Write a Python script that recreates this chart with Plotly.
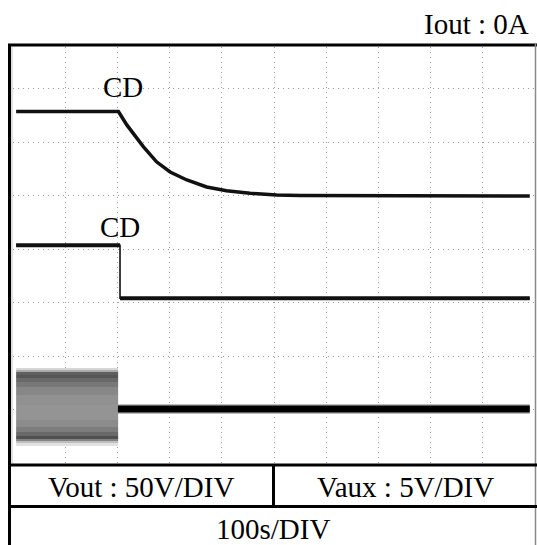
import plotly.graph_objects as go

# ---- data (divisions) ----
vout_t = [0.06, 2.02, 2.18, 2.30, 2.50, 2.75, 3.01, 3.33, 3.71, 4.09, 4.54, 5.05, 5.50, 9.90]
vout_v = [6.57, 6.57, 6.32, 6.16, 5.91, 5.63, 5.44, 5.29, 5.16, 5.09, 5.04, 5.01, 5.00, 4.99]

vaux_t = [0.06, 2.05, 2.05, 9.90]
vaux_v = [4.07, 4.07, 3.08, 3.08]

ch3_band_t = [0.06, 2.01]
ch3_band_edges = [0.318, 0.374, 0.411, 0.449, 0.505, 0.579, 0.673, 0.804, 1.084,
                  1.271, 1.421, 1.514, 1.589, 1.645, 1.701, 1.738, 1.776]
ch3_band_gray = [225, 190, 130, 80, 105, 125, 140, 148, 145, 135, 120, 105, 85, 95, 170, 215]
ch3_t = [2.01, 9.90]
ch3_v = [1.01, 1.01]

labels_cd = ["CD", "CD"]
title_right = "Iout : 0A"
cell_vout = "Vout : 50V/DIV"
cell_vaux = "Vaux : 5V/DIV"
cell_time = "100s/DIV"

# ---- geometry helpers (pixel -> paper) ----
W, H = 537, 545
L, R, T, B = 13, 535, 47, 463


def px(x):
    return (x - L) / (R - L)


def py(y):
    return (B - y) / (B - T)


fig = go.Figure()

# gray band (ch3 before CD)
fig.add_trace(go.Heatmap(
    x=ch3_band_t, y=ch3_band_edges, z=[[g] for g in ch3_band_gray],
    colorscale=[[0, "#000000"], [1, "#ffffff"]], zmin=0, zmax=255,
    showscale=False, hoverinfo="skip"))

# ch3 line
fig.add_trace(go.Scatter(x=ch3_t, y=ch3_v, mode="lines",
                         line=dict(color="#bdbdbd", width=10), hoverinfo="skip"))
fig.add_trace(go.Scatter(x=ch3_t, y=ch3_v, mode="lines",
                         line=dict(color="#000000", width=7), hoverinfo="skip"))

# Vaux: thin full trace + thick horizontal segments
fig.add_trace(go.Scatter(x=vaux_t, y=vaux_v, mode="lines",
                         line=dict(color="#000000", width=1.5), hoverinfo="skip"))
hx, hy = [], []
for i in range(len(vaux_t) - 1):
    if vaux_v[i] == vaux_v[i + 1]:
        hx += [vaux_t[i], vaux_t[i + 1], None]
        hy += [vaux_v[i], vaux_v[i + 1], None]
fig.add_trace(go.Scatter(x=hx, y=hy, mode="lines",
                         line=dict(color="#111111", width=4), hoverinfo="skip"))

# Vout
fig.add_trace(go.Scatter(x=vout_t, y=vout_v, mode="lines",
                         line=dict(color="#111111", width=3.5), hoverinfo="skip"))

grid = dict(showgrid=True, gridcolor="#9a9a9a", gridwidth=1, griddash="1px,4px",
            zeroline=False, showticklabels=False, ticks="", showline=False, fixedrange=True)

fig.update_layout(
    width=W, height=H,
    margin=dict(l=L, r=W - R, t=T, b=H - B),
    paper_bgcolor="white", plot_bgcolor="white",
    showlegend=False,
    xaxis=dict(range=[0, 10], tickvals=list(range(1, 10)), **grid),
    yaxis=dict(range=[0, (B - T) / 53.5], tickvals=list(range(1, 8)), **grid),
    font=dict(family="'Liberation Serif', 'Times New Roman', serif", size=29, color="black"),
)

shapes = []


def line(x0, y0, x1, y1, w=3, c="black"):
    shapes.append(dict(type="line", xref="paper", yref="paper",
                       x0=px(x0), y0=py(y0), x1=px(x1), y1=py(y1),
                       line=dict(color=c, width=w), layer="above"))


line(12, 47, 12, 463, 1, "#c0c0c0")
line(8, 45, 537, 45, 3)
line(9.5, 44, 9.5, 545, 3)
line(535.5, 44, 535.5, 545, 1.5, "#8a8a8a")
line(8, 465, 537, 465, 3)
line(8, 506.5, 537, 506.5, 3)
line(273.5, 465, 273.5, 506.5, 3)
fig.update_layout(shapes=shapes)


def ann(text, x, y, xanchor="center"):
    fig.add_annotation(text=text, xref="paper", yref="paper", x=px(x), y=py(y),
                       xanchor=xanchor, yanchor="middle", showarrow=False,
                       font=dict(size=29), bgcolor="rgba(0,0,0,0)")


ann(title_right, 531, 24, "right")
ann(labels_cd[0], 123, 87)
ann(labels_cd[1], 120, 227)
ann(cell_vout, 140.5, 487)
ann(cell_vaux, 405, 487)
ann(cell_time, 272.5, 528.5)

fig.write_html("out.html")
